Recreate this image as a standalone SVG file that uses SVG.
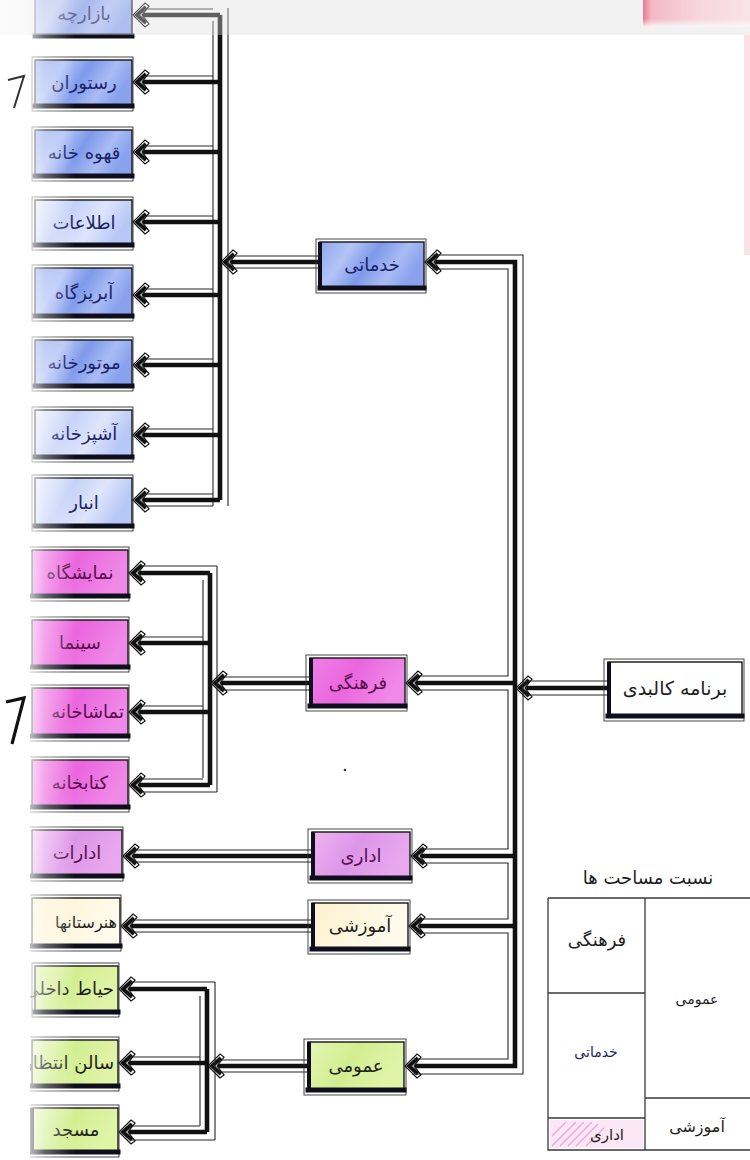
<svg xmlns="http://www.w3.org/2000/svg" width="750" height="1160" viewBox="0 0 750 1160">
<defs>
<style>
.bx{stroke:#151515;stroke-width:1.4}
.sh{stroke:#0e0e1c;stroke-width:5;stroke-linecap:square}
.sl{stroke:#0e0e1c;stroke-width:4;stroke-linecap:square}
.ot{fill:none;stroke:#333;stroke-width:0.9}
.k{fill:none;stroke:#111;stroke-width:4.6;stroke-linejoin:miter}
.th{fill:none;stroke:#262626;stroke-width:1.1}
.t{font-family:"DejaVu Sans","Noto Sans",sans-serif;font-size:18px;text-anchor:middle}
.te{font-family:"DejaVu Sans","Noto Sans",sans-serif;font-size:18px;text-anchor:end}
.tb{fill:#1a2368}
.tp{fill:#5a0d4c}
.tk{fill:#1e1e1e}
.tl{stroke:#3a3a3a;stroke-width:1.3;fill:none}
</style>
<marker id="ah" viewBox="-18 -15 22 30" refX="0" refY="0" markerWidth="22" markerHeight="30" orient="auto" markerUnits="userSpaceOnUse">
<path d="M3,0 L-9,-12 L-13,-9 L-6,0 L-13,9 L-9,12 Z" fill="#fff" stroke="#111" stroke-width="1.2"/>
<path d="M-10,-8 L-1,0 L-10,8" fill="none" stroke="#111" stroke-width="3.8"/>
</marker>
<linearGradient id="gb" x1="0" y1="0" x2="1" y2="0.3">
<stop offset="0" stop-color="#8ea6ef"/><stop offset="0.3" stop-color="#b3c4f6"/><stop offset="0.55" stop-color="#7f99ea"/><stop offset="0.8" stop-color="#a9bcf4"/><stop offset="1" stop-color="#8aa2ee"/>
</linearGradient>
<linearGradient id="gbl" x1="0" y1="0" x2="1" y2="0.3">
<stop offset="0" stop-color="#e6ecfc"/><stop offset="0.4" stop-color="#c4d2f8"/><stop offset="0.7" stop-color="#dfe6fb"/><stop offset="1" stop-color="#b7c7f6"/>
</linearGradient>
<linearGradient id="gp" x1="0" y1="0" x2="1" y2="0.3">
<stop offset="0" stop-color="#f07fe6"/><stop offset="0.5" stop-color="#ea66de"/><stop offset="1" stop-color="#f08ae8"/>
</linearGradient>
<linearGradient id="gpl" x1="0" y1="0" x2="1" y2="0.3">
<stop offset="0" stop-color="#efb4f0"/><stop offset="0.5" stop-color="#dc96e8"/><stop offset="1" stop-color="#e8a8ee"/>
</linearGradient>
<linearGradient id="gy" x1="0" y1="0" x2="1" y2="0.3">
<stop offset="0" stop-color="#fdf2cf"/><stop offset="1" stop-color="#fffbec"/>
</linearGradient>
<linearGradient id="gg" x1="0" y1="0" x2="1" y2="0.3">
<stop offset="0" stop-color="#e4f5b6"/><stop offset="0.5" stop-color="#d2ee90"/><stop offset="1" stop-color="#e0f4a8"/>
</linearGradient>
<linearGradient id="fade" x1="0" y1="0" x2="1" y2="0">
<stop offset="0" stop-color="#fff" stop-opacity="1"/><stop offset="0.33" stop-color="#fff" stop-opacity="0.85"/><stop offset="0.6" stop-color="#fff" stop-opacity="0.35"/><stop offset="1" stop-color="#fff" stop-opacity="0"/>
</linearGradient>
<linearGradient id="red" x1="0" y1="0" x2="1" y2="0">
<stop offset="0" stop-color="#e43d5e"/><stop offset="0.08" stop-color="#f39aab"/><stop offset="0.5" stop-color="#f8c6cf"/><stop offset="1" stop-color="#fbdce2"/>
</linearGradient>
<linearGradient id="redv" x1="0" y1="0" x2="0" y2="1">
<stop offset="0" stop-color="#fff" stop-opacity="0"/><stop offset="0.7" stop-color="#fff" stop-opacity="0"/><stop offset="1" stop-color="#fff" stop-opacity="0.9"/>
</linearGradient>
<clipPath id="cl"><rect x="30" y="0" width="110" height="1160"/></clipPath>
</defs>

<rect x="0" y="0" width="750" height="1160" fill="#ffffff"/>
<rect x="0" y="0" width="750" height="35" fill="#f1f1f1"/>
<rect x="643" y="0" width="107" height="27" fill="url(#red)"/>
<rect x="643" y="0" width="107" height="27" fill="url(#redv)"/>
<rect x="744" y="35" width="6" height="220" fill="#f9e1e6"/>

<g id="connectors">
<path class="k" d="M515,683 V262 H428" marker-end="url(#ah)"/>
<path class="k" d="M515,683 V1066 H408" marker-end="url(#ah)"/>
<path class="k" d="M515,683 H409" marker-end="url(#ah)"/>
<path class="k" d="M515,856 H414" marker-end="url(#ah)"/>
<path class="k" d="M515,926 H412" marker-end="url(#ah)"/>
<path class="k" d="M608,688 H519" marker-end="url(#ah)"/>
<path class="th" d="M432,255 H523 V1074 H412"/>
<path class="th" d="M432,269 H508 V676 H416"/>
<path class="th" d="M416,690 H508 V849 H418"/>
<path class="th" d="M418,863 H508 V919 H416"/>
<path class="th" d="M416,933 H508 V1059 H414"/>
<path class="th" d="M608,681 H526"/>
<path class="th" d="M608,695 H526"/>
<path class="k" d="M320,262 H224" marker-end="url(#ah)"/>
<path class="th" d="M320,256 H232 M320,268 H230"/>
<path class="k" d="M220,15 V500"/>
<path class="th" d="M213,21 V506 M228,8 V506"/>
<path class="k" d="M220,15 H136" marker-end="url(#ah)"/>
<path class="k" d="M220,82 H136" marker-end="url(#ah)"/>
<path class="k" d="M220,152 H136" marker-end="url(#ah)"/>
<path class="k" d="M220,222 H136" marker-end="url(#ah)"/>
<path class="k" d="M220,295 H136" marker-end="url(#ah)"/>
<path class="k" d="M220,365 H136" marker-end="url(#ah)"/>
<path class="k" d="M220,435 H136" marker-end="url(#ah)"/>
<path class="k" d="M220,500 H136" marker-end="url(#ah)"/>
<path class="th" d="M213,9 H144 M213,76 H144 M213,146 H144 M213,216 H144 M213,289 H144 M213,359 H144 M213,429 H144 M213,494 H144 M213,506 H144"/>
<path class="k" d="M310,683 H214" marker-end="url(#ah)"/>
<path class="th" d="M310,677 H222 M310,690 H220"/>
<path class="k" d="M210,573 V785"/>
<path class="th" d="M217,566 V792 M203,580 V778"/>
<path class="k" d="M210,573 H132" marker-end="url(#ah)"/>
<path class="k" d="M210,643 H132" marker-end="url(#ah)"/>
<path class="k" d="M210,712 H132" marker-end="url(#ah)"/>
<path class="k" d="M210,785 H132" marker-end="url(#ah)"/>
<path class="th" d="M217,566 H140 M203,637 H140 M203,706 H140 M203,779 H140 M217,792 H140"/>
<path class="k" d="M312,856 H126" marker-end="url(#ah)"/>
<path class="th" d="M312,850 H134 M312,862 H134"/>
<path class="k" d="M312,926 H124" marker-end="url(#ah)"/>
<path class="th" d="M312,920 H132 M312,932 H132"/>
<path class="k" d="M308,1066 H211" marker-end="url(#ah)"/>
<path class="th" d="M308,1060 H219 M308,1072 H217"/>
<path class="k" d="M207,989 V1132"/>
<path class="th" d="M215,982 V1140 M200,996 V1126"/>
<path class="k" d="M207,989 H122" marker-end="url(#ah)"/>
<path class="k" d="M207,1063 H122" marker-end="url(#ah)"/>
<path class="k" d="M207,1132 H122" marker-end="url(#ah)"/>
<path class="th" d="M215,982 H130 M200,1057 H130 M200,1126 H130 M215,1140 H130"/>
</g>

<g id="n-khadamati">
<rect x="320" y="242" width="104" height="46" class="bx" fill="url(#gb)"/>
<rect x="316" y="239" width="110" height="54" class="ot"/>
<line x1="320" y1="288" x2="424" y2="288" class="sh"/>
<line x1="320" y1="244" x2="320" y2="288" class="sl"/>
<text x="372" y="271" class="t tb">خدماتی</text>
</g>
<g id="n-farhangi">
<rect x="310" y="658" width="95" height="48" class="bx" fill="url(#gp)"/>
<rect x="306" y="655" width="101" height="56" class="ot"/>
<line x1="310" y1="706" x2="405" y2="706" class="sh"/>
<line x1="311" y1="660" x2="311" y2="706" class="sl"/>
<text x="358" y="689" class="t tp">فرهنگی</text>
</g>
<g id="n-edari">
<rect x="312" y="832" width="98" height="46" class="bx" fill="url(#gpl)"/>
<rect x="308" y="829" width="104" height="54" class="ot"/>
<line x1="312" y1="878" x2="410" y2="878" class="sh"/>
<line x1="313" y1="834" x2="313" y2="878" class="sl"/>
<text x="361" y="862" class="t tp">اداری</text>
</g>
<g id="n-amoozeshi">
<rect x="312" y="903" width="96" height="46" class="bx" fill="url(#gy)"/>
<rect x="308" y="900" width="102" height="54" class="ot"/>
<line x1="312" y1="949" x2="408" y2="949" class="sh"/>
<line x1="313" y1="905" x2="313" y2="949" class="sl"/>
<text x="360" y="932" class="t tk">آموزشی</text>
</g>
<g id="n-omoomi">
<rect x="308" y="1042" width="96" height="48" class="bx" fill="url(#gg)"/>
<rect x="304" y="1039" width="102" height="56" class="ot"/>
<line x1="308" y1="1090" x2="404" y2="1090" class="sh"/>
<line x1="309" y1="1044" x2="309" y2="1090" class="sl"/>
<text x="356" y="1072" class="t tk">عمومی</text>
</g>
<g id="n-root">
<rect x="608" y="662" width="134" height="54" class="bx" fill="#ffffff"/>
<rect x="604" y="659" width="140" height="62" class="ot"/>
<line x1="608" y1="716" x2="742" y2="716" class="sh"/>
<line x1="609" y1="664" x2="609" y2="716" class="sl"/>
<text x="675" y="695" class="t tk" style="font-size:19px">برنامه کالبدی</text>
</g>

<g clip-path="url(#cl)">
<g id="n-bazarche">
<rect x="35" y="-8" width="97" height="44" class="bx" fill="url(#gb)"/>
<line x1="35" y1="36" x2="132" y2="36" class="sh"/>
<text x="84" y="20" class="t tb">بازارچه</text>
</g>
<g id="n-restoran">
<rect x="35" y="60" width="97" height="46" class="bx" fill="url(#gb)"/>
<rect x="32" y="57" width="101" height="54" class="ot"/>
<line x1="35" y1="106" x2="132" y2="106" class="sh"/>
<text x="84" y="89" class="t tb">رستوران</text>
</g>
<g id="n-ghahvekhane">
<rect x="35" y="130" width="97" height="46" class="bx" fill="url(#gb)"/>
<rect x="32" y="127" width="101" height="54" class="ot"/>
<line x1="35" y1="176" x2="132" y2="176" class="sh"/>
<text x="84" y="159" class="t tb">قهوه خانه</text>
</g>
<g id="n-ettelaat">
<rect x="35" y="200" width="97" height="45" class="bx" fill="url(#gbl)"/>
<rect x="32" y="197" width="101" height="53" class="ot"/>
<line x1="35" y1="245" x2="132" y2="245" class="sh"/>
<text x="84" y="229" class="t tb">اطلاعات</text>
</g>
<g id="n-abrizgah">
<rect x="35" y="268" width="97" height="48" class="bx" fill="url(#gb)"/>
<rect x="32" y="265" width="101" height="56" class="ot"/>
<line x1="35" y1="316" x2="132" y2="316" class="sh"/>
<text x="84" y="299" class="t tb">آبریزگاه</text>
</g>
<g id="n-motorkhane">
<rect x="35" y="340" width="97" height="46" class="bx" fill="url(#gb)"/>
<rect x="32" y="337" width="101" height="54" class="ot"/>
<line x1="35" y1="386" x2="132" y2="386" class="sh"/>
<text x="84" y="369" class="t tb">موتورخانه</text>
</g>
<g id="n-ashpazkhane">
<rect x="35" y="410" width="97" height="47" class="bx" fill="url(#gbl)"/>
<rect x="32" y="407" width="101" height="55" class="ot"/>
<line x1="35" y1="457" x2="132" y2="457" class="sh"/>
<text x="84" y="440" class="t tb">آشپزخانه</text>
</g>
<g id="n-anbar">
<rect x="35" y="478" width="97" height="48" class="bx" fill="url(#gbl)"/>
<rect x="32" y="475" width="101" height="56" class="ot"/>
<line x1="35" y1="526" x2="132" y2="526" class="sh"/>
<text x="84" y="509" class="t tb">انبار</text>
</g>
<g id="n-namayeshgah">
<rect x="32" y="550" width="96" height="46" class="bx" fill="url(#gp)"/>
<rect x="29" y="547" width="100" height="54" class="ot"/>
<line x1="32" y1="596" x2="128" y2="596" class="sh"/>
<text x="80" y="579" class="t tp">نمایشگاه</text>
</g>
<g id="n-cinema">
<rect x="32" y="620" width="96" height="47" class="bx" fill="url(#gp)"/>
<rect x="29" y="617" width="100" height="55" class="ot"/>
<line x1="32" y1="667" x2="128" y2="667" class="sh"/>
<text x="80" y="649" class="t tp">سینما</text>
</g>
<g id="n-tamashakhane">
<rect x="32" y="688" width="96" height="48" class="bx" fill="url(#gp)"/>
<rect x="29" y="685" width="100" height="56" class="ot"/>
<line x1="32" y1="736" x2="128" y2="736" class="sh"/>
<text x="124" y="718" class="te tp">تماشاخانه</text>
</g>
<g id="n-ketabkhane">
<rect x="32" y="760" width="96" height="47" class="bx" fill="url(#gp)"/>
<rect x="29" y="757" width="100" height="55" class="ot"/>
<line x1="32" y1="807" x2="128" y2="807" class="sh"/>
<text x="80" y="789" class="t tp">کتابخانه</text>
</g>
<g id="n-edarat">
<rect x="32" y="830" width="90" height="46" class="bx" fill="url(#gpl)"/>
<rect x="29" y="827" width="94" height="54" class="ot"/>
<line x1="32" y1="876" x2="122" y2="876" class="sh"/>
<text x="77" y="859" class="t tp">ادارات</text>
</g>
<g id="n-honarestanha">
<rect x="32" y="898" width="88" height="48" class="bx" fill="url(#gy)"/>
<rect x="29" y="895" width="92" height="56" class="ot"/>
<line x1="32" y1="946" x2="120" y2="946" class="sh"/>
<text x="117" y="928" class="te tk" style="font-size:16px">هنرستانها</text>
</g>
<g id="n-hayat">
<rect x="35" y="966" width="83" height="46" class="bx" fill="url(#gg)"/>
<rect x="32" y="963" width="87" height="54" class="ot"/>
<line x1="35" y1="1012" x2="118" y2="1012" class="sh"/>
<text x="114" y="995" class="te tk">حیاط داخلی</text>
</g>
<g id="n-salon">
<rect x="32" y="1040" width="86" height="46" class="bx" fill="url(#gg)"/>
<rect x="29" y="1037" width="90" height="54" class="ot"/>
<line x1="32" y1="1086" x2="118" y2="1086" class="sh"/>
<text x="114" y="1069" class="te tk">سالن انتظار</text>
</g>
<g id="n-masjed">
<rect x="32" y="1108" width="86" height="44" class="bx" fill="url(#gg)"/>
<rect x="29" y="1105" width="90" height="52" class="ot"/>
<line x1="32" y1="1152" x2="118" y2="1152" class="sh"/>
<line x1="32" y1="1110" x2="32" y2="1152" class="sl"/>
<text x="76" y="1136" class="t tk">مسجد</text>
</g>
</g>

<rect x="0" y="0" width="75" height="1160" fill="url(#fade)"/>
<rect x="0" y="0" width="750" height="35" fill="#f4f4f4" opacity="0.35"/>

<path d="M8,80 L24,76 L14,108" fill="none" stroke="#333" stroke-width="2"/>
<path d="M6,702 L24,698 L12,744" fill="none" stroke="#111" stroke-width="3.2"/>
<circle cx="345" cy="770" r="1.3" fill="#333"/>

<g id="area-table">
<text x="648" y="884" class="t tk" style="font-size:18px">نسبت مساحت ها</text>
<path class="tl" d="M548,898 H752 M548,898 V1150 H752 M645,898 V1150 M548,993 H645 M548,1118 H645 M645,1098 H752"/>
<g stroke="#e77fc8" stroke-width="1.2" opacity="0.8">
<path d="M552,1146 L576,1122 M560,1146 L584,1122 M568,1146 L592,1122 M576,1146 L598,1124 M552,1136 L566,1122 M586,1146 L604,1128"/>
</g>
<rect x="550" y="1120" width="93" height="28" fill="#f3b9e3" opacity="0.35"/>
<text x="597" y="946" class="t tk" style="font-size:18px">فرهنگی</text>
<text x="596" y="1057" class="t tb" style="font-size:14px">خدماتی</text>
<text x="607" y="1140" class="t tk" style="font-size:15px">اداری</text>
<text x="697" y="1004" class="t tk" style="font-size:14px">عمومی</text>
<text x="697" y="1132" class="t tk" style="font-size:16px">آموزشی</text>
</g>
</svg>
